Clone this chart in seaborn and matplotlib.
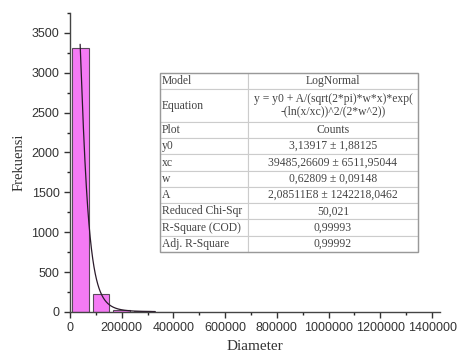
import numpy as np
import pandas as pd
import matplotlib
matplotlib.use('Agg')
import matplotlib.pyplot as plt
import seaborn as sns
from matplotlib.ticker import MultipleLocator
from matplotlib.patches import Rectangle

# histogram of diameters (bin centres and counts)
bin_centres = [40000, 120000, 200000, 280000, 360000]
counts = [3310, 225, 30, 10, 4]
bin_width = 80000

# LogNormal fit parameters shown in the table
y0 = 3.13917
xc = 39485.26609
w = 0.62809
A = 2.08511e8

table_rows = ['Model', 'Equation', 'Plot', 'y0', 'xc', 'w', 'A',
              'Reduced Chi-Sqr', 'R-Square (COD)', 'Adj. R-Square']
table_vals = ['LogNormal',
              'y = y0 + A/(sqrt(2*pi)*w*x)*exp(\n-(ln(x/xc))^2/(2*w^2))',
              'Counts', '3,13917 ± 1,88125', '39485,26609 ± 6511,95044',
              '0,62809 ± 0,09148', '2,08511E8 ± 1242218,0462',
              '50,021', '0,99993', '0,99992']

sns.set_style('ticks')
plt.rcParams['font.family'] = ['Liberation Sans', 'DejaVu Sans']

df = pd.DataFrame({'Diameter': bin_centres, 'Counts': counts})
edges = [bin_centres[0] - bin_width / 2 + i * bin_width for i in range(len(bin_centres) + 1)]

fig = plt.figure(figsize=(4.57, 3.61), dpi=100)
ax = fig.add_axes([0.153, 0.136, 0.81, 0.828])

sns.histplot(data=df, x='Diameter', weights='Counts', bins=edges, shrink=0.8,
             color='#f47af4', edgecolor='#5a4a5a', linewidth=0.8, alpha=1, ax=ax)

xs = np.linspace(xc, 330000, 300)
fit = pd.DataFrame({'x': xs,
                    'y': y0 + A / (np.sqrt(2 * np.pi) * w * xs) * np.exp(-(np.log(xs / xc)) ** 2 / (2 * w ** 2))})
sns.lineplot(data=fit, x='x', y='y', color='#2a1a2a', linewidth=0.9, ax=ax)

ax.set_xlim(0, 1431000)
ax.set_ylim(0, 3750)
ax.xaxis.set_major_locator(MultipleLocator(200000))
ax.xaxis.set_minor_locator(MultipleLocator(100000))
ax.yaxis.set_major_locator(MultipleLocator(500))
ax.yaxis.set_minor_locator(MultipleLocator(250))
ax.ticklabel_format(style='plain', axis='x')
ax.tick_params(labelsize=9, colors='#333333', length=4, width=1)
ax.tick_params(which='minor', length=2.5, width=1)
for s in ['top', 'right']:
    ax.spines[s].set_visible(False)
for s in ['left', 'bottom']:
    ax.spines[s].set_color('#444444')
    ax.spines[s].set_linewidth(1)
ax.set_xlabel('Diameter', family='Liberation Serif', fontsize=11, color='#333333')
ax.set_ylabel('Frekuensi', family='Liberation Serif', fontsize=10.5, color='#333333')

# fit result table, drawn in figure pixels
W, H = 457, 361
left, top, right, bottom = 160, 73, 418, 252
split = 248
unit = (bottom - top) / (len(table_rows) + 1)
y = top
for i, (r, v) in enumerate(zip(table_rows, table_vals)):
    h = unit * (2 if i == 1 else 1)
    for x0, x1 in [(left, split), (split, right)]:
        fig.add_artist(Rectangle((x0 / W, 1 - (y + h) / H), (x1 - x0) / W, h / H,
                                 transform=fig.transFigure, facecolor='white',
                                 edgecolor='#cccccc', linewidth=0.8, zorder=5))
    fig.text((left + 2) / W, 1 - (y + h / 2) / H, r, ha='left', va='center',
             family='Liberation Serif', fontsize=8.4, color='#444444', zorder=6)
    fig.text((split + right) / 2 / W, 1 - (y + h / 2) / H, v, ha='center', va='center',
             family='Liberation Serif', fontsize=8.4, color='#444444', zorder=6,
             linespacing=1.05)
    y += h
fig.add_artist(Rectangle((left / W, 1 - bottom / H), (right - left) / W, (bottom - top) / H,
                         transform=fig.transFigure, fill=False, edgecolor='#999999',
                         linewidth=1, zorder=7))

fig.savefig('out.png', dpi=100)
